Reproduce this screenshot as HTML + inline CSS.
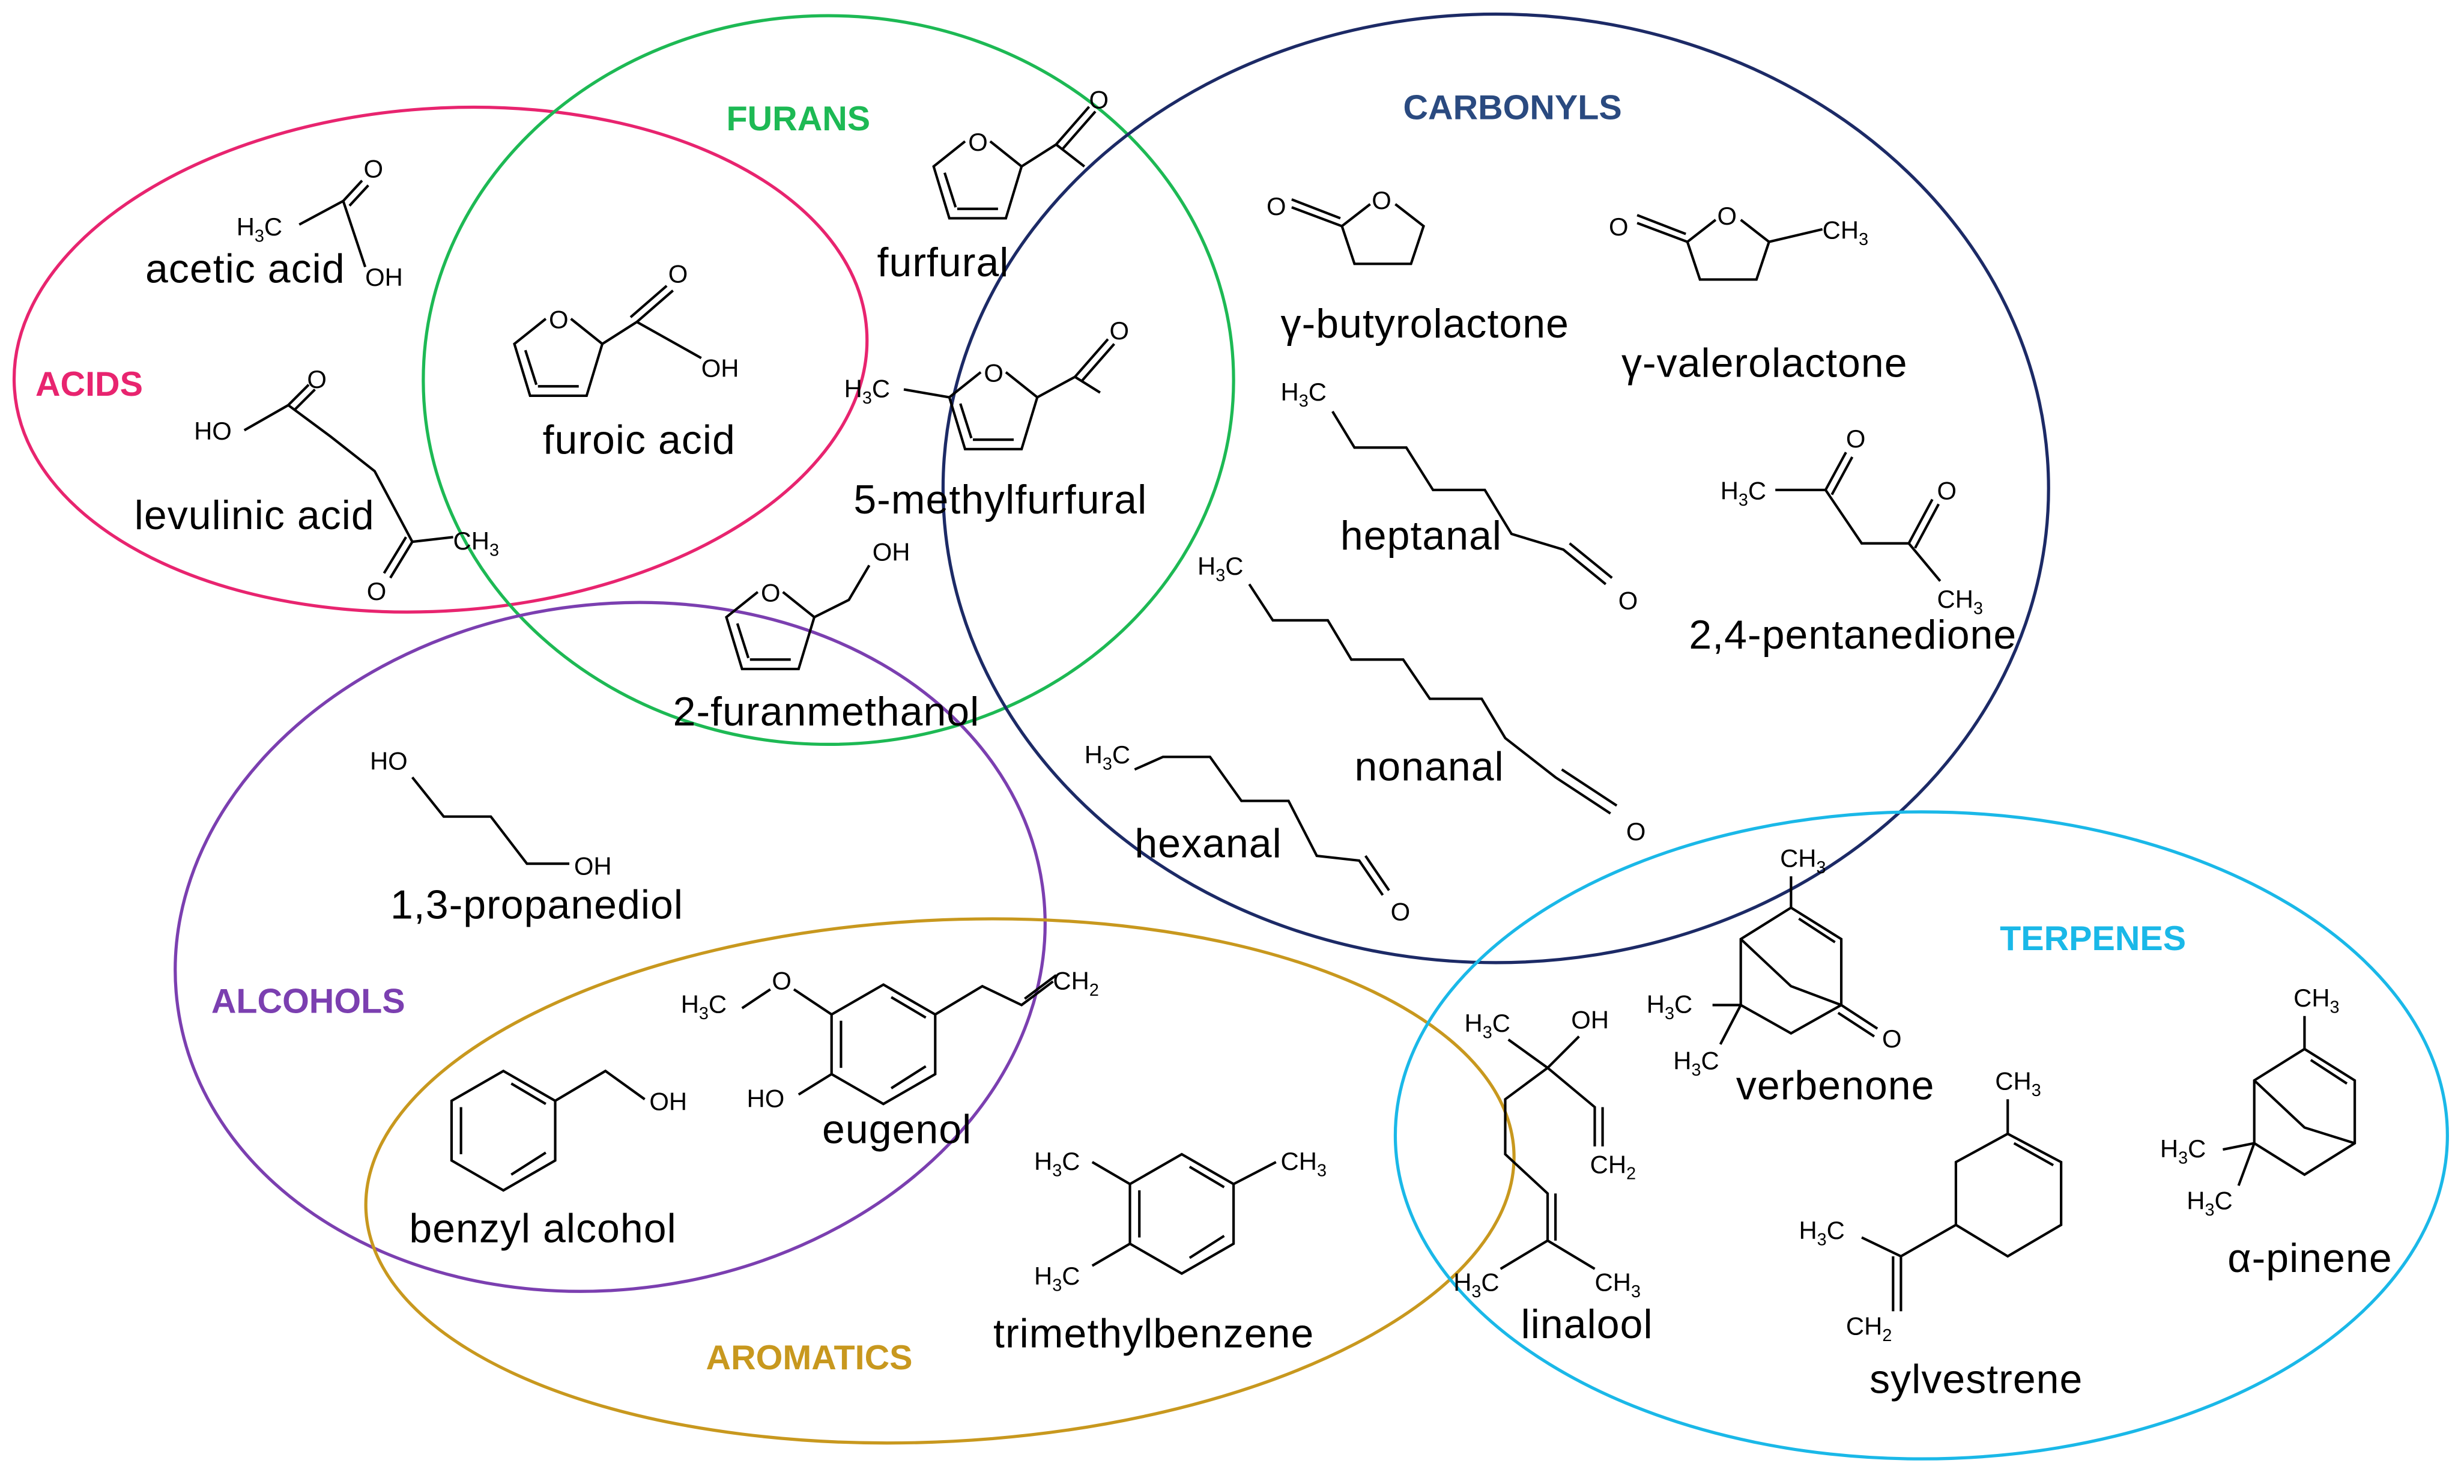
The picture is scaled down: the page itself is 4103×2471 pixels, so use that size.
<!DOCTYPE html>
<html><head><meta charset="utf-8"><style>
html,body{margin:0;padding:0;background:#fff;}
svg{display:block;}
text{font-family:"Liberation Sans",sans-serif;}
.n{font-size:26px;fill:#000;letter-spacing:0.4px;}
.a{font-size:16px;fill:#000;}
.s{font-size:11px;}
.b{fill:none;stroke:#000;stroke-width:1.6;}
.h{font-size:22px;font-weight:bold;}
</style></head><body>
<svg width="4103" height="2471" viewBox="0 0 1568 945" xmlns="http://www.w3.org/2000/svg">
<defs>
<g id="fur"><path class="b" d="M-8,-25 L-28,-9 L-18,24 L18,24 L28,-9 L8,-25 M-13,18 L13,18 M-21,-5 L-14,17"/></g>
<g id="benz"><polygon class="b" points="0,-38 33,-19 33,19 0,38 -33,19 -33,-19"/><path class="b" d="M5,-30 L27,-17 M27,14 L5,28 M-27,15 L-27,-15"/></g>
<g id="lac"><path class="b" d="M-8,-20 L-26,-6 L-18,18 L18,18 L26,-6 L8,-20"/></g>
</defs>

<ellipse cx="280" cy="229" rx="272" ry="160" transform="rotate(-4 280 229)" fill="none" stroke="#e8246f" stroke-width="2"/>
<ellipse cx="527" cy="242" rx="258" ry="232" fill="none" stroke="#1db954" stroke-width="2"/>
<ellipse cx="952" cy="311" rx="352" ry="302" fill="none" stroke="#1c2a66" stroke-width="2"/>
<ellipse cx="388" cy="603" rx="278" ry="218" transform="rotate(-8 388 603)" fill="none" stroke="#7b3fb0" stroke-width="2"/>
<ellipse cx="598" cy="752" rx="366" ry="166" transform="rotate(-3 598 752)" fill="none" stroke="#c8981e" stroke-width="2"/>
<ellipse cx="1223" cy="723" rx="335" ry="206" fill="none" stroke="#1ab8e8" stroke-width="2"/>

<text class="h" x="22" y="252" fill="#e8246f">ACIDS</text>
<text class="h" x="462" y="83" fill="#1db954">FURANS</text>
<text class="h" x="893" y="76" fill="#2a4a80">CARBONYLS</text>
<text class="h" x="134" y="645" fill="#7b3fb0">ALCOHOLS</text>
<text class="h" x="449" y="872" fill="#c8981e">AROMATICS</text>
<text class="h" x="1273" y="605" fill="#1ab8e8">TERPENES</text>

<text class="n" x="92" y="180">acetic acid</text>
<text class="n" x="85" y="337">levulinic acid</text>
<text class="n" x="345" y="289">furoic acid</text>
<text class="n" x="558" y="176">furfural</text>
<text class="n" x="543" y="327">5-methylfurfural</text>
<text class="n" x="428" y="462">2-furanmethanol</text>
<text class="n" x="815" y="215">γ-butyrolactone</text>
<text class="n" x="1032" y="240">γ-valerolactone</text>
<text class="n" x="853" y="350">heptanal</text>
<text class="n" x="1075" y="413">2,4-pentanedione</text>
<text class="n" x="862" y="497">nonanal</text>
<text class="n" x="722" y="546">hexanal</text>
<text class="n" x="248" y="585">1,3-propanediol</text>
<text class="n" x="523" y="728">eugenol</text>
<text class="n" x="260" y="791">benzyl alcohol</text>
<text class="n" x="632" y="858">trimethylbenzene</text>
<text class="n" x="1105" y="700">verbenone</text>
<text class="n" x="968" y="852">linalool</text>
<text class="n" x="1190" y="887">sylvestrene</text>
<text class="n" x="1418" y="810">α-pinene</text>

<!-- acetic acid -->
<text class="a" x="150" y="150">H<tspan class="s" dy="4">3</tspan><tspan dy="-4">C</tspan></text>
<path class="b" d="M190,143 L218,128 L232,170 M218,128 L230,115 M222,131 L234,118"/>
<text class="a" x="231" y="113">O</text><text class="a" x="232" y="182">OH</text>
<!-- levulinic acid -->
<text class="a" x="123" y="280">HO</text>
<path class="b" d="M155,274 L183,258 L210,278 L238,300 L262,345 L288,342 M183,258 L196,245 M187,261 L200,248 M262,345 L248,368 M258,342 L244,365"/>
<text class="a" x="195" y="247">O</text><text class="a" x="233" y="382">O</text>
<text class="a" x="288" y="350">CH<tspan class="s" dy="4">3</tspan></text>

<!-- furoic acid -->
<use href="#fur" x="355" y="228"/><text class="a" x="349" y="209">O</text>
<path class="b" d="M383,219 L405,205 L428,185 M401,202 L424,182 M405,205 L446,228"/>
<text class="a" x="425" y="180">O</text><text class="a" x="446" y="240">OH</text>
<!-- furfural -->
<use href="#fur" x="622" y="115"/><text class="a" x="616" y="96">O</text>
<path class="b" d="M650,106 L672,92 L690,106 M672,92 L693,68 M676,95 L697,71"/>
<text class="a" x="693" y="69">O</text>
<!-- 5-methylfurfural -->
<use href="#fur" x="632" y="262"/><text class="a" x="626" y="243">O</text>
<path class="b" d="M660,253 L684,240 L700,250 M684,240 L705,216 M688,243 L709,219 M604,253 L575,248"/>
<text class="a" x="706" y="216">O</text>
<text class="a" x="537" y="253">H<tspan class="s" dy="4">3</tspan><tspan dy="-4">C</tspan></text>
<!-- 2-furanmethanol -->
<use href="#fur" x="490" y="402"/><text class="a" x="484" y="383">O</text>
<path class="b" d="M518,393 L540,382 L553,360"/>
<text class="a" x="555" y="357">OH</text>

<!-- butyrolactone -->
<use href="#lac" x="880" y="150"/><text class="a" x="873" y="133">O</text>
<path class="b" d="M854,144 L822,132 M853,139 L822,127"/><text class="a" x="806" y="137">O</text>
<!-- valerolactone -->
<use href="#lac" x="1100" y="160"/><text class="a" x="1093" y="143">O</text>
<path class="b" d="M1074,154 L1042,142 M1073,149 L1042,137 M1126,154 L1160,146"/>
<text class="a" x="1024" y="150">O</text>
<text class="a" x="1160" y="152">CH<tspan class="s" dy="4">3</tspan></text>
<!-- heptanal -->
<text class="a" x="815" y="255">H<tspan class="s" dy="4">3</tspan><tspan dy="-4">C</tspan></text>
<path class="b" d="M848,262 L862,285 L895,285 L912,312 L945,312 L962,340 L995,350 L1022,372 M999,346 L1026,368"/>
<text class="a" x="1030" y="388">O</text>
<!-- nonanal -->
<text class="a" x="762" y="366">H<tspan class="s" dy="4">3</tspan><tspan dy="-4">C</tspan></text>
<path class="b" d="M795,372 L810,395 L845,395 L860,420 L893,420 L910,445 L943,445 L958,470 L990,495 L1025,518 M994,490 L1029,513"/>
<text class="a" x="1035" y="535">O</text>
<!-- hexanal -->
<text class="a" x="690" y="486">H<tspan class="s" dy="4">3</tspan><tspan dy="-4">C</tspan></text>
<path class="b" d="M722,490 L740,482 L770,482 L790,510 L820,510 L838,545 L865,548 L880,570 M869,545 L884,567"/>
<text class="a" x="885" y="586">O</text>
<!-- 2,4-pentanedione -->
<text class="a" x="1095" y="318">H<tspan class="s" dy="4">3</tspan><tspan dy="-4">C</tspan></text>
<path class="b" d="M1130,312 L1162,312 L1175,288 M1166,315 L1179,291 M1162,312 L1185,346 L1215,346 L1230,318 M1219,349 L1234,321 M1215,346 L1235,370"/>
<text class="a" x="1175" y="285">O</text><text class="a" x="1233" y="318">O</text>
<text class="a" x="1233" y="387">CH<tspan class="s" dy="4">3</tspan></text>

<!-- 1,3-propanediol -->
<text class="a" x="235" y="490">HO</text>
<path class="b" d="M262,495 L282,520 L312,520 L335,550 L362,550"/>
<text class="a" x="365" y="557">OH</text>
<!-- eugenol -->
<use href="#benz" x="562" y="665"/>
<text class="a" x="433" y="645">H<tspan class="s" dy="4">3</tspan><tspan dy="-4">C</tspan></text>
<path class="b" d="M472,642 L490,630 M505,630 L529,646 M529,684 L508,697 M595,646 L625,628 L650,640 L670,625 M652,636 L672,621"/>
<text class="a" x="491" y="630">O</text><text class="a" x="475" y="705">HO</text>
<text class="a" x="670" y="630">CH<tspan class="s" dy="4">2</tspan></text>
<!-- benzyl alcohol -->
<use href="#benz" x="320" y="720"/>
<path class="b" d="M353,701 L385,682 L410,700"/>
<text class="a" x="413" y="707">OH</text>
<!-- trimethylbenzene -->
<use href="#benz" x="752" y="773"/>
<path class="b" d="M719,754 L695,740 M719,792 L695,806 M785,754 L812,740"/>
<text class="a" x="658" y="745">H<tspan class="s" dy="4">3</tspan><tspan dy="-4">C</tspan></text>
<text class="a" x="658" y="818">H<tspan class="s" dy="4">3</tspan><tspan dy="-4">C</tspan></text>
<text class="a" x="815" y="745">CH<tspan class="s" dy="4">3</tspan></text>
<!-- linalool -->
<text class="a" x="932" y="657">H<tspan class="s" dy="4">3</tspan><tspan dy="-4">C</tspan></text>
<text class="a" x="1000" y="655">OH</text>
<path class="b" d="M960,662 L985,680 L1005,660 M985,680 L1015,705 L1015,730 M1020,705 L1020,730 M985,680 L958,700 L958,735 L985,760 L985,790 M990,760 L990,790 M985,790 L955,808 M985,790 L1015,808"/>
<text class="a" x="1012" y="747">CH<tspan class="s" dy="4">2</tspan></text>
<text class="a" x="925" y="822">H<tspan class="s" dy="4">3</tspan><tspan dy="-4">C</tspan></text>
<text class="a" x="1015" y="822">CH<tspan class="s" dy="4">3</tspan></text>
<!-- verbenone -->
<text class="a" x="1133" y="552">CH<tspan class="s" dy="4">3</tspan></text>
<path class="b" d="M1140,558 L1140,578 L1108,598 L1108,640 L1140,658 L1172,640 L1172,598 L1140,578 M1145,585 L1168,600 M1108,598 L1140,628 L1172,640 M1172,640 L1195,655 M1170,645 L1193,660 M1108,640 L1090,640 M1108,640 L1095,665"/>
<text class="a" x="1198" y="667">O</text>
<text class="a" x="1048" y="645">H<tspan class="s" dy="4">3</tspan><tspan dy="-4">C</tspan></text>
<text class="a" x="1065" y="681">H<tspan class="s" dy="4">3</tspan><tspan dy="-4">C</tspan></text>
<!-- sylvestrene -->
<text class="a" x="1270" y="694">CH<tspan class="s" dy="4">3</tspan></text>
<path class="b" d="M1278,700 L1278,722 L1245,740 L1245,780 L1278,800 L1312,780 L1312,740 L1278,722 M1282,728 L1307,742 M1245,780 L1210,800 L1210,835 M1205,800 L1205,835 M1210,800 L1185,788"/>
<text class="a" x="1145" y="789">H<tspan class="s" dy="4">3</tspan><tspan dy="-4">C</tspan></text>
<text class="a" x="1175" y="850">CH<tspan class="s" dy="4">2</tspan></text>
<!-- alpha-pinene -->
<text class="a" x="1460" y="641">CH<tspan class="s" dy="4">3</tspan></text>
<path class="b" d="M1467,647 L1467,668 L1435,688 L1435,728 L1467,748 L1499,728 L1499,688 L1467,668 M1471,675 L1494,690 M1435,688 L1467,718 L1499,728 M1435,728 L1415,732 M1435,728 L1425,755"/>
<text class="a" x="1375" y="737">H<tspan class="s" dy="4">3</tspan><tspan dy="-4">C</tspan></text>
<text class="a" x="1392" y="770">H<tspan class="s" dy="4">3</tspan><tspan dy="-4">C</tspan></text>
</svg>
</body></html>
